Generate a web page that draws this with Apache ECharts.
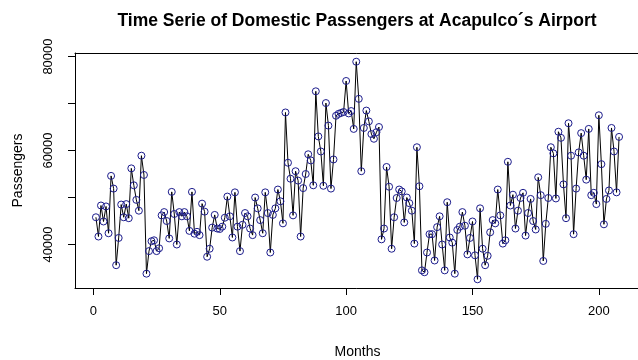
<!DOCTYPE html>
<html>
<head>
<meta charset="utf-8">
<script src="https://cdn.jsdelivr.net/npm/echarts@6/dist/echarts.min.js"></script>
<style>
  html, body { margin: 0; padding: 0; background: #fff; }
  #chart { width: 638px; height: 360px; }
</style>
</head>
<body>
<div id="chart"></div>
<script>
// Monthly domestic passengers, months 1..208
const passengers = [
  45800, 41700, 48300, 44900, 48100, 42400, 54600, 51900, 35600, 41400,
  48500, 45800, 48600, 45600, 56200, 52600, 49500, 47200, 58900, 54800,
  33800, 38600, 40700, 40900, 38600, 39200, 46200, 46900, 45000, 41300,
  51200, 46500, 40000, 46900, 46000, 46900, 46000, 42900, 51200, 42300,
  42700, 42000, 48700, 47000, 37400, 39100, 43600, 46300, 43400, 43300,
  43800, 45700, 50200, 46000, 41500, 51100, 43800, 38600, 44200, 46700,
  46000, 43400, 42000, 50000, 47700, 45200, 42400, 51100, 46700, 38300,
  46300, 47700, 51700, 49200, 44500, 68100, 57400, 54000, 46200, 55600,
  53600, 41700, 52000, 55000, 59200, 57900, 52600, 72600, 63000, 59800,
  52500, 70100, 65300, 51900, 58100, 67400, 67800, 68000, 68200, 74800,
  67900, 68400, 64600, 78900, 71000, 55600, 64800, 68500, 66200, 63500,
  62500, 63900, 65000, 41100, 43400, 56500, 52300, 39100, 45800, 49900,
  51700, 51300, 44700, 50000, 48800, 47200, 40200, 60700, 52400, 34500,
  34100, 38300, 42200, 42200, 36600, 43700, 46000, 40000, 34500, 49000,
  41500, 40400, 33800, 43100, 43800, 46900, 44000, 37900, 41400, 44900,
  37700, 32600, 47700, 39100, 35600, 37600, 42600, 45200, 44500, 51700,
  46200, 40200, 40900, 57600, 48300, 50600, 43400, 47200, 49900, 51000,
  41900, 46700, 49700, 45000, 43200, 54300, 50500, 36500, 44400, 49900,
  60700, 59400, 49800, 64000, 62700, 52800, 45600, 65800, 58900, 42200,
  51900, 59600, 63700, 58900, 53800, 64600, 50500, 51000, 48600, 67500,
  57100, 44300, 49700, 51500, 64800, 59800, 51100, 62900
];
const months = passengers.map((_, i) => i + 1);

// Axis ticks and labels
const xTicks = [0, 50, 100, 150, 200];
const yTicks = [40000, 50000, 60000, 70000, 80000];
const yLabels = [40000, 60000, 80000];

// Axis limits padded 4% beyond the data range on each side
const n = months.length;
const xPad = (n - 1) * 0.04;
const yMinData = Math.min(...passengers), yMaxData = Math.max(...passengers);
const yPad = (yMaxData - yMinData) * 0.04;
const xMin = 1 - xPad, xMax = n + xPad;

const font = '"Liberation Sans", Arial, sans-serif';
const frameLine = { show: true, onZero: false, lineStyle: { color: '#000', width: 1 } };

const chart = echarts.init(document.getElementById('chart'), null, { renderer: 'canvas' });
chart.setOption({
  animation: false,
  backgroundColor: '#ffffff',
  title: {
    text: 'Time Serie of Domestic Passengers at Acapulco\u00b4s Airport',
    left: 352,
    top: 7,
    textAlign: 'center',
    textStyle: { fontFamily: font, fontWeight: 'bold', fontSize: 17.5, color: '#000' }
  },
  grid: {
    left: 75, top: 53, width: 565, height: 235,
    outerBoundsMode: 'none',
    containLabel: false,
    show: false
  },
  xAxis: [{
    type: 'value',
    position: 'bottom',
    min: xMin,
    max: xMax,
    name: 'Months',
    nameLocation: 'middle',
    nameGap: 57,
    nameTextStyle: { fontFamily: font, fontSize: 14, color: '#000' },
    axisLine: frameLine,
    axisTick: { show: true, customValues: xTicks, length: 7, inside: false, lineStyle: { color: '#000' } },
    axisLabel: { customValues: xTicks, fontFamily: font, fontSize: 13, color: '#000', margin: 17 },
    splitLine: { show: false }
  }, {
    // upper edge of the plot frame
    type: 'value',
    position: 'top',
    min: xMin,
    max: xMax,
    axisLine: frameLine,
    axisTick: { show: false },
    axisLabel: { show: false },
    splitLine: { show: false }
  }],
  yAxis: {
    type: 'value',
    min: yMinData - yPad,
    max: yMaxData + yPad,
    name: 'Passengers',
    nameLocation: 'middle',
    nameGap: 50,
    nameRotate: 90,
    nameTextStyle: { fontFamily: font, fontSize: 14, color: '#000' },
    axisLine: frameLine,
    axisTick: { show: true, customValues: yTicks, length: 7, inside: false, lineStyle: { color: '#000' } },
    axisLabel: {
      customValues: yLabels, rotate: 90, fontFamily: font, fontSize: 13, color: '#000', margin: 20,
      formatter: v => String(v)
    },
    splitLine: { show: false }
  },
  series: [{
    type: 'line',
    xAxisIndex: 0,
    data: months.map((m, i) => [m, passengers[i]]),
    symbol: 'circle',
    symbolSize: 7,
    showAllSymbol: true,
    lineStyle: { color: '#000', width: 1 },
    itemStyle: { color: 'rgba(0,0,0,0)', borderColor: '#1c1c8c', borderWidth: 1 },
    emphasis: { disabled: true },
    z: 2
  }]
});
</script>
</body>
</html>
